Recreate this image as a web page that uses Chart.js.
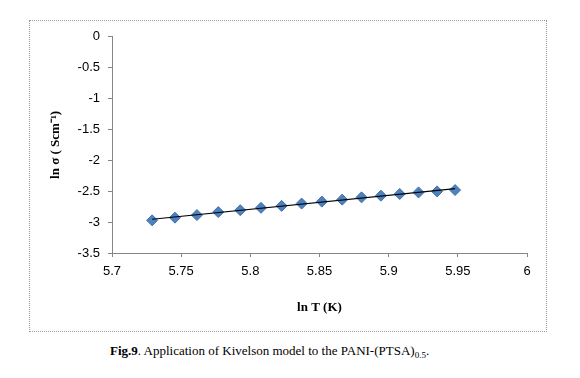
<!DOCTYPE html>
<html>
<head>
<meta charset="utf-8">
<script src="https://cdn.jsdelivr.net/npm/chart.js@4"></script>
<style>
  html, body { margin:0; padding:0; background:#fff; width:580px; height:378px; overflow:hidden; }
  #box { position:absolute; left:29px; top:20px; width:516px; height:310px; border:1px dotted #9a9a9a; }
  #caption { position:absolute; left:110px; top:343px; font-family:"Liberation Serif", serif; font-size:13px; color:#000; white-space:nowrap; }
  #caption sub { font-size:9px; vertical-align:-3px; }
</style>
</head>
<body>
<div id="box"><canvas id="c" width="516" height="310"></canvas></div>
<div id="caption"><b>Fig.9</b>. Application of Kivelson model to the PANI-(PTSA)<sub>0.5</sub>.</div>
<script>
const lnT = [5.729, 5.7455, 5.7614, 5.7768, 5.7927, 5.8077, 5.8226, 5.8371, 5.8517, 5.8664, 5.8804, 5.8944, 5.9080, 5.9216, 5.9350, 5.9480];
const lnSigma = [-2.971, -2.928, -2.886, -2.838, -2.806, -2.769, -2.737, -2.700, -2.668, -2.636, -2.599, -2.572, -2.545, -2.519, -2.503, -2.481];
const xTicks = [5.7, 5.75, 5.8, 5.85, 5.9, 5.95, 6];
const yTicks = [0, -0.5, -1, -1.5, -2, -2.5, -3, -3.5];

// linear trendline (least squares) through the data
const n = lnT.length;
const mx = lnT.reduce((a,b)=>a+b,0)/n, my = lnSigma.reduce((a,b)=>a+b,0)/n;
let sxy=0, sxx=0;
for (let i=0;i<n;i++){ sxy += (lnT[i]-mx)*(lnSigma[i]-my); sxx += (lnT[i]-mx)**2; }
const slope = sxy/sxx, icpt = my - slope*mx;
const trend = [lnT[0], lnT[n-1]].map(x => ({x, y: slope*x + icpt}));

const pts = lnT.map((x,i)=>({x, y: lnSigma[i]}));
const axisColor = '#868686';
const tickFont = {family:'"Liberation Sans", Arial, sans-serif', size:13};
const titleFont = {family:'"Liberation Serif", serif', size:13, weight:'bold'};

new Chart(document.getElementById('c'), {
  type: 'scatter',
  data: {
    datasets: [
      { type:'line', data: trend, borderColor:'#000', borderWidth:1.2, pointRadius:0, fill:false, order:0 },
      { data: pts, pointStyle:'rectRot', pointRadius:5.5, backgroundColor:'#4F81BD', borderColor:'#3E70AC', borderWidth:1, order:1 }
    ]
  },
  options: {
    responsive:false, animation:false,
    layout: { padding: { left:18, right:19, top:15, bottom:16 } },
    plugins: { legend:{display:false}, tooltip:{enabled:false} },
    scales: {
      x: {
        type:'linear', min:5.7, max:6,
        afterBuildTicks: s => { s.ticks = xTicks.map(v=>({value:v})); },
        afterFit: s => { s.height = 62; },
        grid: { drawOnChartArea:false, drawTicks:true, tickLength:4, color:axisColor },
        border: { color:axisColor },
        ticks: { color:'#000', font:tickFont, padding:7, maxRotation:0, callback: v => String(v) },
        title: { display:true, text:'ln T (K)', color:'#000', font:titleFont, padding:0 }
      },
      y: {
        type:'linear', min:-3.5, max:0,
        afterBuildTicks: s => { s.ticks = yTicks.map(v=>({value:v})); },
        afterFit: s => { s.width = 64; },
        grid: { drawOnChartArea:false, drawTicks:true, tickLength:4, color:axisColor },
        border: { color:axisColor },
        ticks: { color:'#000', font:tickFont, padding:8, callback: v => String(v) },
        title: { display:true, text:'ln σ ( Scm⁻¹)', color:'#000', font:titleFont, padding:0 }
      }
    }
  }
});
</script>
</body>
</html>
